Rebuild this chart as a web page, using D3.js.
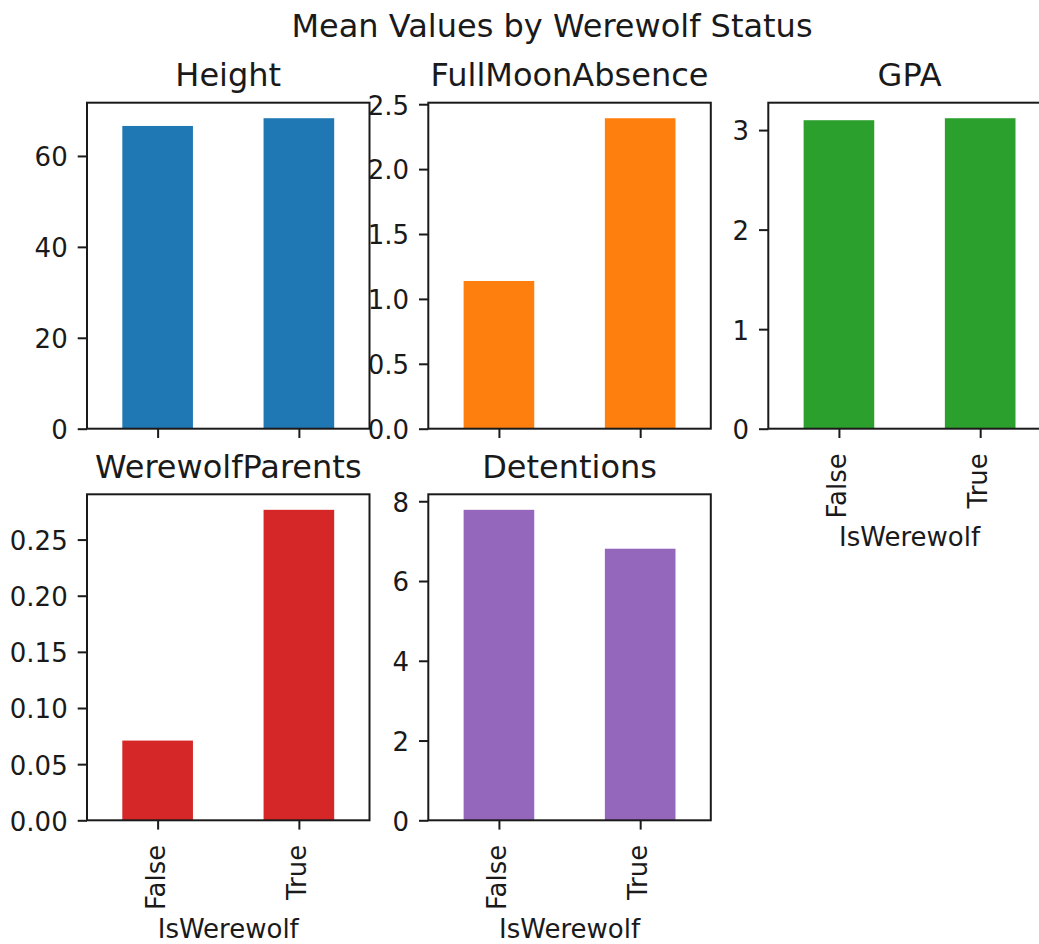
<!DOCTYPE html>
<html>
<head>
<meta charset="utf-8">
<script src="https://cdn.jsdelivr.net/npm/d3@7"></script>
<style>
  html, body { margin: 0; padding: 0; background: #fff; }
  svg { display: block; font-family: "DejaVu Sans", sans-serif; }
</style>
</head>
<body>
<svg id="chart" width="1039" height="944"></svg>
<script>
// Group means per werewolf status
const categories = ["False", "True"];
const heightMeans = [66.6, 68.3];
const fullMoonAbsenceMeans = [1.138, 2.392];
const gpaMeans = [3.099, 3.119];
const werewolfParentsMeans = [0.071, 0.2765];
const detentionsMeans = [7.785, 6.81];

const heightTicks = [0, 20, 40, 60];
const fullMoonTicks = [0, 0.5, 1.0, 1.5, 2.0, 2.5];
const gpaTicks = [0, 1, 2, 3];
const parentsTicks = [0, 0.05, 0.10, 0.15, 0.20, 0.25];
const detentionTicks = [0, 2, 4, 6, 8];

const figureTitle = "Mean Values by Werewolf Status";
const xAxisTitle = "IsWerewolf";

const panels = [
  { title: "Height", values: heightMeans, ticks: heightTicks, fmt: d3.format("d"), color: "#1f77b4", col: 0, row: 0, xLabels: false },
  { title: "FullMoonAbsence", values: fullMoonAbsenceMeans, ticks: fullMoonTicks, fmt: d3.format(".1f"), color: "#ff7f0e", col: 1, row: 0, xLabels: false },
  { title: "GPA", values: gpaMeans, ticks: gpaTicks, fmt: d3.format("d"), color: "#2ca02c", col: 2, row: 0, xLabels: true },
  { title: "WerewolfParents", values: werewolfParentsMeans, ticks: parentsTicks, fmt: d3.format(".2f"), color: "#d62728", col: 0, row: 1, xLabels: true },
  { title: "Detentions", values: detentionsMeans, ticks: detentionTicks, fmt: d3.format("d"), color: "#9467bd", col: 1, row: 1, xLabels: true }
];

// grid geometry
const colLeft = [87, 428.3, 768.3];
const rowTop = [102.7, 494.3];
const panelW = 282.5;
const panelH = 326;
const tickLen = 9.3;
const tickFont = 26;
const titleFont = 32;
const ink = "#1a1a1a";

const svg = d3.select("#chart");

svg.append("text")
  .attr("x", 552)
  .attr("y", 36.5)
  .attr("text-anchor", "middle")
  .attr("font-size", titleFont)
  .attr("fill", ink)
  .text(figureTitle);

panels.forEach(p => {
  const left = colLeft[p.col];
  const top = rowTop[p.row];
  const g = svg.append("g").attr("transform", `translate(${left},${top})`);

  const x = d3.scaleLinear().domain([-0.5, 1.5]).range([0, panelW]);
  const y = d3.scaleLinear().domain([0, d3.max(p.values) * 1.05]).range([panelH, 0]);

  // bars
  g.selectAll("rect.bar")
    .data(p.values)
    .join("rect")
    .attr("class", "bar")
    .attr("x", (d, i) => x(i - 0.25))
    .attr("width", (d, i) => x(i + 0.25) - x(i - 0.25))
    .attr("y", d => y(d))
    .attr("height", d => y(0) - y(d))
    .attr("fill", p.color);

  // y axis
  const yAxis = d3.axisLeft(y)
    .tickValues(p.ticks)
    .tickFormat(p.fmt)
    .tickSize(tickLen)
    .tickPadding(10);
  const ya = g.append("g").call(yAxis);
  ya.select(".domain").remove();
  ya.selectAll(".tick line").attr("stroke", ink).attr("stroke-width", 2);
  ya.selectAll(".tick text")
    .attr("font-size", tickFont)
    .attr("font-family", "DejaVu Sans, sans-serif")
    .attr("fill", ink)
    .attr("dy", "0.38em");

  // x axis
  const xAxis = d3.axisBottom(x)
    .tickValues([0, 1])
    .tickFormat(i => p.xLabels ? categories[i] : "")
    .tickSize(tickLen)
    .tickPadding(0);
  const xa = g.append("g").attr("transform", `translate(0,${panelH})`).call(xAxis);
  xa.select(".domain").remove();
  xa.selectAll(".tick line").attr("stroke", ink).attr("stroke-width", 2);
  xa.selectAll(".tick text")
    .attr("font-size", tickFont)
    .attr("font-family", "DejaVu Sans, sans-serif")
    .attr("fill", ink)
    .attr("text-anchor", "end")
    .attr("dy", null)
    .attr("y", null)
    .attr("transform", `translate(${0.26 * tickFont},24.5) rotate(-90)`);

  if (p.xLabels) {
    g.append("text")
      .attr("x", panelW / 2)
      .attr("y", panelH + 117.6)
      .attr("text-anchor", "middle")
      .attr("font-size", tickFont)
      .attr("fill", ink)
      .text(xAxisTitle);
  }

  // frame
  g.append("rect")
    .attr("x", 0).attr("y", 0)
    .attr("width", panelW).attr("height", panelH)
    .attr("fill", "none")
    .attr("stroke", ink)
    .attr("stroke-width", 2);

  // panel title
  g.append("text")
    .attr("x", panelW / 2)
    .attr("y", -16.5)
    .attr("text-anchor", "middle")
    .attr("font-size", titleFont)
    .attr("fill", ink)
    .text(p.title);
});
</script>
</body>
</html>
